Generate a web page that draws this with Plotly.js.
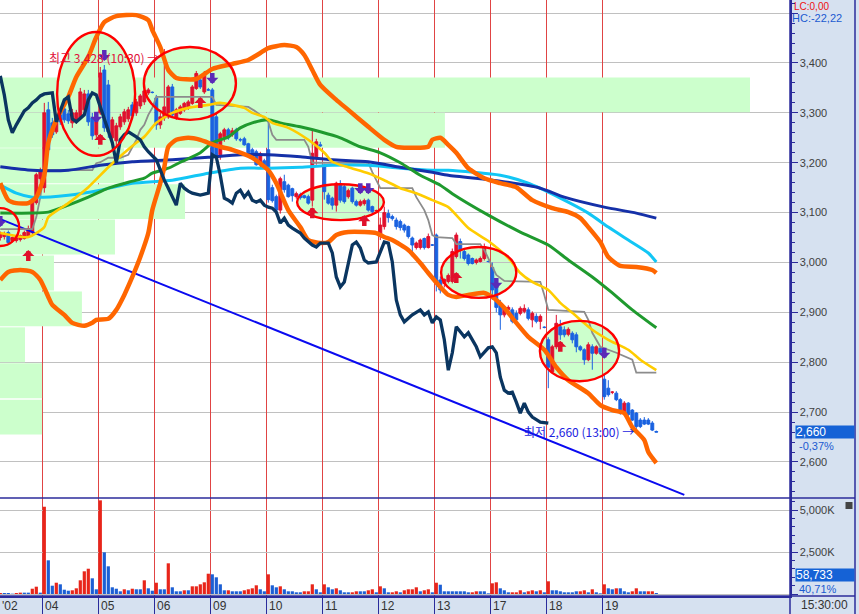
<!DOCTYPE html>
<html><head><meta charset="utf-8">
<script src="https://cdn.plot.ly/plotly-3.0.1.min.js"></script>
<style>html,body{margin:0;padding:0;background:#d6e1f0;}#chart{width:859px;height:614px;}</style>
</head><body><div id="chart"></div>
<script>
// ---------- categories / days ----------
const dayLabels = ["'02","04","05","06","09","10","11","12","13","17","18","19"];
const dayStart  = [-11,0,14,28,42,56,70,84,98,112,126,140];

// ---------- 30-minute candles (bar index -11 .. 153) ----------
const openP = [
 3050,3052,3060,3044,3044,3046,3048,3052,3060,3120,3168,
 3150,3306,3280,3262,3296,3308,3298,3280,3284,3290,3306,3338,3290,3256,
 3300,3386,3356,3250,3244,3272,3282,3288,3316,3300,3314,3322,3340,3341,
 3330,3276,3290,3292,3352,3290,3299,3306,3309,3319,3349,3366,3342,3346,
 3346,3292,3216,3252,3266,3256,3266,3246,3248,3238,3226,3222,3196,3204,
 3226,3150,3132,3105,3162,3155,3148,3132,3136,3134,3132,3125,3212,3236,
 3195,3135,3129,3115,3155,3152,3132,3149,3122,3115,3118,3125,3112,3104,
 3055,3072,3098,3092,3085,3082,3075,3072,3049,3030,3030,3048,3030,3035,
 3055,2965,2958,2962,2962,3012,3042,3022,3015,3008,3000,3002,3008,3002,
 2990,2952,2918,2895,2905,2905,2898,2898,2902,2905,2885,2892,2882,2870,
 2845,2781,2831,2871,2865,2856,2858,2855,2831,2825,2805,2831,2818,2828,
 2766,2748,2740,2738,2725,2698,2718,2704,2698,2684,2684,2684,2678,2661];
const highP = [
 3062,3062,3064,3052,3054,3056,3064,3074,3128,3180,3190,
 3320,3322,3290,3298,3304,3314,3306,3308,3306,3350,3346,3346,3300,3290,
 3392,3396,3366,3292,3280,3298,3308,3312,3322,3328,3338,3348,3350,3343,
 3336,3300,3428,3356,3358,3310,3316,3322,3326,3356,3384,3372,3384,3350,
 3350,3298,3262,3270,3270,3270,3270,3250,3252,3240,3230,3226,3222,3208,
 3290,3156,3136,3172,3176,3158,3150,3142,3140,3136,3136,3266,3248,3242,
 3198,3140,3132,3162,3165,3158,3148,3152,3126,3126,3128,3128,3114,3106,
 3090,3112,3106,3096,3090,3086,3078,3074,3052,3042,3048,3050,3058,3037,
 3058,2972,2968,2978,3028,3060,3048,3026,3018,3010,3008,3012,3038,3004,
 3000,2958,2925,2912,2914,2910,2904,2912,2916,2910,2902,2898,2896,2872,
 2850,2835,2895,2885,2872,2870,2862,2860,2834,2828,2840,2836,2834,2832,
 2778,2764,2742,2742,2728,2722,2720,2706,2700,2688,2690,2688,2682,2663];
const lowP = [
 3044,3046,3036,3040,3040,3042,3046,3050,3056,3116,3160,
 3140,3218,3250,3258,3276,3280,3278,3270,3278,3286,3300,3274,3246,3250,
 3296,3262,3250,3236,3232,3266,3276,3282,3290,3294,3308,3316,3336,3339,
 3266,3268,3284,3288,3290,3286,3296,3302,3306,3316,3346,3348,3338,3344,
 3205,3208,3206,3242,3246,3252,3244,3242,3234,3218,3212,3194,3190,3190,
 3120,3120,3100,3098,3140,3130,3122,3128,3126,3128,3116,3112,3196,3232,
 3126,3116,3106,3102,3120,3118,3128,3118,3112,3112,3114,3102,3098,3102,
 3045,3066,3080,3084,3066,3064,3060,3048,3012,3026,3026,3026,3028,3033,
 2942,2938,2950,2958,2958,3008,3008,3004,2994,2996,2996,3000,3004,3000,
 2925,2900,2865,2890,2900,2878,2880,2894,2898,2884,2870,2878,2866,2868,
 2748,2778,2826,2845,2850,2852,2838,2820,2822,2795,2802,2785,2815,2815,
 2725,2731,2736,2722,2695,2695,2692,2682,2660,2668,2674,2674,2662,2660];
const closeP = [
 3058,3058,3040,3050,3050,3054,3060,3068,3124,3176,3184,
 3300,3226,3256,3290,3282,3286,3284,3300,3300,3342,3338,3282,3254,3282,
 3380,3270,3262,3286,3274,3292,3302,3306,3294,3322,3334,3344,3346,3341,
 3276,3292,3312,3352,3296,3306,3312,3319,3322,3352,3379,3352,3379,3346,
 3212,3214,3258,3266,3250,3264,3248,3246,3236,3220,3216,3196,3218,3192,
 3126,3124,3105,3168,3146,3132,3134,3138,3130,3130,3119,3219,3242,3234,
 3142,3119,3115,3159,3125,3122,3144,3122,3115,3122,3124,3105,3102,3104,
 3075,3100,3090,3088,3072,3070,3065,3052,3035,3039,3045,3030,3052,3035,
 2962,2945,2966,2974,3022,3055,3025,3008,2998,2998,3005,3008,3032,3002,
 2945,2910,2895,2908,2910,2882,2885,2908,2908,2888,2898,2882,2892,2870,
 2790,2831,2878,2855,2855,2866,2845,2831,2825,2805,2835,2818,2831,2820,
 2731,2735,2740,2725,2698,2718,2695,2684,2671,2671,2676,2676,2664,2660];

// ---------- volume (thousand shares) and up/down flag ----------
const volK = [
 60,60,60,20,60,80,80,80,315,435,80,
 5194,2005,494,672,577,256,196,220,339,815,1351,1505,934,280,
 5575,2481,1648,399,315,161,280,220,315,280,280,815,339,196,
 672,280,280,1827,399,161,161,220,220,458,458,577,696,1208,
 1172,994,577,220,220,161,161,161,220,280,339,518,280,161,
 1172,518,399,458,280,161,161,101,101,161,161,577,280,101,
 577,399,280,339,220,101,101,101,161,161,161,220,280,101,
 458,339,101,101,161,101,220,280,280,399,161,220,280,101,
 672,553,161,161,161,161,161,161,101,101,161,161,161,40,
 637,696,339,220,101,101,101,220,101,161,220,161,220,101,
 756,220,220,161,101,101,101,161,161,220,101,280,101,40,
 577,339,280,339,339,161,101,161,339,161,161,161,161,58.733];
const volUp = [
 1,0,0,0,1,1,0,0,1,1,0,
 1,0,0,1,0,0,0,1,1,1,1,1,0,0,
 1,0,0,0,0,0,1,0,1,0,0,1,0,0,
 1,0,0,1,0,0,0,1,0,1,1,1,1,1,
 0,0,0,0,1,0,0,0,1,1,1,1,0,0,
 1,0,0,1,0,0,0,0,0,1,1,1,0,0,
 1,0,0,1,0,0,0,1,1,0,0,1,1,0,
 1,0,0,1,1,0,1,1,1,1,0,1,1,0,
 1,0,0,0,0,0,0,0,0,1,1,0,0,0,
 1,1,0,0,0,1,1,1,0,1,1,0,1,0,
 1,0,0,0,0,0,0,0,1,1,0,1,0,0,
 1,0,0,1,0,0,0,1,1,0,0,1,1,0];

// ---------- volume-by-price profile ----------
const profilePrice = [3336,3265,3194,3122,3051,2979,2907,2835,2763,2690];
const profileVol   = [26550,15750,4390,6550,4070,1910,2900,885,1490,1490];

// ---------- indicator lines (bar index, price) ----------
const lagX = [-11,-10,-9,-8,-7,-6,-5,-4,-3,-2,-1,0,2,3,5,6,7,8,10,11,12,13,14,16,17,18,19,20,21,23,24,25,26,28,29,30,31,33,34,35,36,37,38,39,40,41,42,43,44,45,46,47,48,49,50,51,52,53,54,55,56,57,58,59,60,61,62,64,65,67,68,69,71,72,73,74,75,76,77,78,79,80,81,83,84,85,86,87,88,89,90,91,92,94,95,96,97,98,99,100,101,102,103,104,105,106,108,109,111,112,113,114,115,116,117,118,119,120,121,122,123,124,126];
const lagY = [3374,3336,3286,3260,3276,3290,3304,3310,3320,3326,3334,3338,3340,3282,3326,3332,3288,3282,3296,3326,3340,3336,3312,3266,3240,3200,3246,3256,3262,3252,3246,3232,3222,3206,3185,3165,3149,3115,3159,3149,3143,3139,3137,3135,3137,3139,3216,3211,3175,3129,3125,3119,3139,3145,3131,3141,3125,3121,3125,3115,3111,3109,3101,3079,3089,3075,3069,3059,3049,3035,3031,3039,3039,3019,2971,2951,2961,2999,3035,3041,3029,3005,2999,3001,3021,3041,3039,3001,2925,2895,2881,2889,2895,2905,2895,2901,2879,2891,2885,2845,2784,2819,2871,2861,2851,2859,2831,2811,2829,2831,2819,2770,2744,2738,2740,2720,2698,2718,2700,2690,2684,2680,2678];

const bbUpX = [-11,-9,-7,-4,-2,0,1,3,6,8,11,13,15,18,23,26,27,29,31,33,38,42,47,51,54,56,60,63,65,67,69,73,76,81,85,88,91,96,97,99,101,103,106,110,114,118,122,127,131,134,136,139,141,144,148,152,153];
const bbUpY = [3159,3125,3119,3119,3131,3175,3240,3286,3332,3372,3412,3452,3482,3494,3496,3486,3466,3432,3386,3370,3368,3388,3398,3406,3420,3430,3436,3432,3416,3386,3356,3326,3306,3272,3246,3232,3230,3232,3246,3250,3236,3220,3189,3169,3159,3151,3125,3109,3101,3089,3071,3041,3011,2993,2991,2985,2979];

const bbLoX = [-11,-9,-6,-3,-1,1,2,5,7,10,12,13,16,18,20,22,24,26,27,29,30,31,33,36,39,41,44,47,52,56,58,61,64,66,69,71,73,76,80,83,85,87,91,94,96,99,101,103,106,110,112,115,118,121,125,128,131,136,139,142,145,147,150,151,153];
const bbLoY = [2965,2981,2985,2981,2965,2931,2915,2895,2879,2873,2879,2885,2887,2905,2935,2971,3011,3059,3105,3159,3191,3232,3246,3250,3246,3240,3232,3226,3210,3185,3159,3105,3071,3045,3039,3041,3055,3061,3061,3059,3051,3045,3025,2999,2979,2951,2935,2931,2935,2939,2931,2909,2879,2851,2825,2790,2764,2738,2714,2704,2698,2670,2644,2620,2598];

const maYelX = [-11,-4,0,1,6,11,16,20,23,25,28,32,36,41,44,47,50,52,55,57,61,66,70,72,76,81,85,89,93,97,101,106,111,116,119,122,126,129,132,137,141,146,149,153];
const maYelY = [3059,3051,3071,3091,3119,3151,3191,3220,3240,3252,3280,3300,3310,3316,3320,3316,3310,3300,3292,3280,3270,3246,3220,3202,3191,3179,3165,3149,3139,3125,3111,3069,3043,3009,2979,2961,2945,2919,2899,2865,2845,2825,2805,2784];

const maGrnX = [-11,-3,1,6,11,16,21,25,27,31,34,39,42,46,49,52,56,59,64,69,74,79,84,89,94,99,102,111,119,126,131,137,142,147,153];
const maGrnY = [3099,3099,3101,3115,3131,3149,3161,3169,3179,3189,3201,3220,3240,3252,3270,3280,3286,3280,3272,3262,3250,3232,3220,3200,3175,3155,3138,3095,3061,3035,3005,2971,2939,2905,2869];

const maNavX = [-11,-3,6,14,22,32,41,49,56,64,72,81,89,97,101,114,124,130,140,148,153];
const maNavY = [3192,3185,3185,3195,3202,3206,3211,3216,3216,3212,3206,3202,3191,3181,3175,3163,3149,3131,3111,3099,3089];

const maCyaX = [-11,-7,-3,6,14,22,32,41,49,56,64,72,81,89,97,101,114,121,129,136,141,146,151,153];
const maCyaY = [3155,3139,3131,3135,3145,3159,3165,3179,3189,3189,3191,3195,3195,3189,3185,3185,3175,3159,3129,3099,3071,3045,3019,3001];

const stepX = [-11,-3,-2,-1,0,12,13,14,16,19,21,22,23,24,25,26,27,28,42,43,51,53,55,56,57,58,65,66,67,81,82,84,92,93,95,96,97,98,102,103,109,110,112,113,115,124,125,126,135,136,137,139,143,147,148,153];
const stepY = [3067,3067,3091,3131,3185,3185,3199,3201,3210,3210,3216,3230,3246,3266,3276,3296,3310,3332,3332,3316,3312,3302,3290,3282,3256,3246,3246,3232,3200,3200,3181,3149,3149,3131,3105,3085,3055,3051,3049,3037,3037,3025,2991,2975,2963,2961,2935,2905,2901,2885,2859,2831,2819,2805,2779,2779];

const trendX = [-11,160];
const trendY = [3087,2534];

// ---------- signals ----------
const upX = [-4,14,39,67,80,103,129];
const upY = [3025,3258,3332,3111,3095,2981,2843];
const downX = [-11,13,15,42,79,81,113,140];
const downY = [3071,3280,3404,3358,3137,3137,2947,2807];

// ---------- drawn ellipses (bar index / price) ----------
const ellX0 = [-15.8,3.2,24.9,63.2,99.2,123.9];
const ellX1 = [-6.3,22.7,47.9,84.9,118.0,143.7];
const ellY0 = [3033,3214,3286,3085,2929,2762];
const ellY1 = [3109,3462,3432,3157,3031,2883];

// ---------- axis ticks ----------
const priceTicks = [2600,2700,2800,2900,3000,3100,3200,3300,3400,3500];
const volTicks = [0,2500,5000];
const volTickText = ['','2,500K','5,000K'];

// =====================================================
const NAVY = '#2b2b9b', GRID = '#c0c0c0', DAYRED = '#e04444';
const xMin = -11.075, xMax = 186.425;
const barIdx = openP.map((_, k) => dayStart[0] + k);
const sep = dayStart.slice(1).map(d => d - 0.5);
const fmt = v => Math.round(v).toLocaleString('en-US');

const traces = [];
traces.push({type:'bar', orientation:'h', x:profileVol, y:profilePrice, width:70,
  xaxis:'x', yaxis:'y', marker:{color:'#ccffcc', line:{width:0}}, hoverinfo:'skip'});
traces.push({type:'bar', x:barIdx, y:volK, width:0.8, xaxis:'x3', yaxis:'y2',
  marker:{color:volUp.map(u => u ? '#e8251a' : '#1c5fd4'), line:{width:0}}, hoverinfo:'skip'});
traces.push({type:'candlestick', x:barIdx, open:openP, high:highP, low:lowP, close:closeP,
  xaxis:'x2', yaxis:'y', whiskerwidth:0,
  increasing:{line:{color:'#e0102e', width:1}, fillcolor:'#e0102e'},
  decreasing:{line:{color:'#1a62e0', width:1}, fillcolor:'#1a62e0'}, hoverinfo:'skip'});
function line(x, y, color, width, shape) {
  traces.push({type:'scatter', mode:'lines', x:x, y:y, xaxis:'x2', yaxis:'y',
    line:{color:color, width:width, shape:shape||'linear', smoothing:0.6}, hoverinfo:'skip'});
}
line(trendX, trendY, '#0a0af0', 2);
line(stepX, stepY, '#8c8c8c', 1.8);
line(maCyaX, maCyaY, '#12c6f5', 3, 'spline');
line(maNavX, maNavY, '#1530a8', 3, 'spline');
line(maGrnX, maGrnY, '#1f9a2e', 3, 'spline');
line(maYelX, maYelY, '#ffcc00', 2.6, 'spline');
line(bbUpX, bbUpY, '#ff6600', 4.5, 'spline');
line(bbLoX, bbLoY, '#ff6600', 4.5, 'spline');
line(lagX, lagY, '#0a3560', 3.3);

const shapes = [];
ellX0.forEach((x0, k) => {
  shapes.push({type:'circle', xref:'x2', yref:'y', x0:x0, x1:ellX1[k], y0:ellY0[k], y1:ellY1[k],
    layer:'below', fillcolor:'#ccffcc', line:{width:0}});
  shapes.push({type:'circle', xref:'x2', yref:'y', x0:x0, x1:ellX1[k], y0:ellY0[k], y1:ellY1[k],
    layer:'above', fillcolor:'rgba(0,0,0,0)', line:{color:'#ff0000', width:2.4}});
});
const pane = 1 - 498/596;
const edgeR = 855/790;
shapes.push({type:'line', xref:'paper', yref:'paper', x0:0, x1:edgeR, y0:pane, y1:pane, line:{color:NAVY, width:1.5}});
shapes.push({type:'line', xref:'paper', yref:'paper', x0:0, x1:edgeR, y0:0, y1:0, line:{color:NAVY, width:1.5}});
shapes.push({type:'line', xref:'paper', yref:'paper', x0:1, x1:1, y0:-18/596, y1:1, line:{color:NAVY, width:1.5}});
shapes.push({type:'line', xref:'paper', yref:'paper', x0:edgeR, x1:edgeR, y0:-18/596, y1:1, line:{color:NAVY, width:1.5}});
shapes.push({type:'rect', xref:'paper', yref:'paper', x0:845.5/790, x1:852.5/790, y0:1-509/596, y1:1-502/596,
  fillcolor:'#444444', line:{width:0}});

const ann = [];
upX.forEach((x, k) => ann.push({xref:'x2', yref:'y', x:x, y:upY[k], text:' ', font:{size:1}, showarrow:true,
  arrowhead:1, arrowsize:0.45, arrowwidth:4.5, arrowcolor:'#e0102a', ax:0, ay:13, standoff:0}));
downX.forEach((x, k) => ann.push({xref:'x2', yref:'y', x:x, y:downY[k], text:' ', font:{size:1}, showarrow:true,
  arrowhead:1, arrowsize:0.45, arrowwidth:4.5, arrowcolor:'#5a2ab8', ax:0, ay:-13, standoff:0}));
dayLabels.forEach((t, k) => ann.push({xref:'x3', yref:'paper', x: k === 0 ? xMin : dayStart[k] - 0.5,
  y:0, yanchor:'top', xanchor:'left', xshift: k === 0 ? 0 : 1, yshift:-1, text:t, showarrow:false,
  font:{size:12, color:'#333333'}}));
const hiVal = Math.max(...highP), loVal = Math.min(...lowP);
const kor = 'Noto Sans CJK KR, Noto Sans, sans-serif';
ann.push({xref:'x2', yref:'y', x:29.2, y:hiVal - 16, xanchor:'right', yanchor:'middle', showarrow:false,
  text:'최고 ' + fmt(hiVal) + ' (10:30) →', font:{family:kor, size:12, color:'#e0103a'}});
ann.push({xref:'x2', yref:'y', x:147.9, y:loVal + 2, xanchor:'right', yanchor:'middle', showarrow:false,
  text:'최저 ' + fmt(loVal) + ' (13:00) →', font:{family:kor, size:12, color:'#1a22e0'}});
const px = p => p / 790;
ann.push({xref:'paper', yref:'paper', x:px(793), y:1, xanchor:'left', yanchor:'top', showarrow:false,
  borderpad:0, text:'LC:0,00', font:{size:10, color:'#ee1111'}});
ann.push({xref:'paper', yref:'paper', x:px(791), y:1 - 18/596, xanchor:'left', yanchor:'middle', showarrow:false,
  borderpad:0, text:'HC:-22,22', font:{size:11, color:'#1a5ad0'}});
ann.push({xref:'paper', yref:'y', x:px(795), y:closeP[closeP.length - 1], xanchor:'left', yanchor:'middle',
  showarrow:false, text:fmt(closeP[closeP.length - 1]), width:58, height:12, align:'left', borderpad:0,
  bgcolor:'#1562d6', font:{size:12, color:'#ffffff'}});
ann.push({xref:'paper', yref:'paper', x:px(797), y:1 - 446/596, xanchor:'left', yanchor:'middle', showarrow:false,
  text:'-0,37%', font:{size:11, color:'#1a5ad0'}});
ann.push({xref:'paper', yref:'paper', x:px(795), y:1 - 575/596, xanchor:'left', yanchor:'middle', showarrow:false,
  text:fmt(volK[volK.length - 1] * 1000), width:58, height:12, align:'left', borderpad:0,
  bgcolor:'#1562d6', font:{size:12, color:'#ffffff'}});
ann.push({xref:'paper', yref:'paper', x:px(797), y:1 - 589/596, xanchor:'left', yanchor:'middle', showarrow:false,
  text:'40,71%', font:{size:11, color:'#1a5ad0'}});
ann.push({xref:'paper', yref:'paper', x:px(799), y:1 - 605/596, xanchor:'left', yanchor:'middle', showarrow:false,
  text:'15:30:00', font:{size:12, color:'#333333'}});

const yTickFont = {size:11, color:'#404040'};
const layout = {
  width:859, height:614, margin:{l:0, r:69, t:0, b:18, pad:0},
  paper_bgcolor:'#d6e1f0', plot_bgcolor:'#ffffff', showlegend:false, hovermode:false,
  font:{family:'Liberation Sans, Arial, sans-serif'},
  boxgap:0.2, boxgroupgap:0.1,
  xaxis:{domain:[0,1], anchor:'y', range:[0, profileVol[0] * 790 / 750], visible:false, fixedrange:true},
  xaxis2:{overlaying:'x', anchor:'y', range:[xMin, xMax], tickmode:'array', tickvals:sep,
    showgrid:true, gridcolor:DAYRED, gridwidth:1, showticklabels:false, ticks:'', zeroline:false,
    showline:false, rangeslider:{visible:false}, fixedrange:true},
  xaxis3:{domain:[0,1], anchor:'y2', range:[xMin, xMax], tickmode:'array', tickvals:sep,
    showgrid:true, gridcolor:DAYRED, gridwidth:1, showticklabels:false, ticks:'outside', ticklen:18,
    tickcolor:NAVY, tickwidth:1.5, zeroline:false, showline:true, linecolor:NAVY, linewidth:1.5,
    rangeslider:{visible:false}, fixedrange:true},
  yaxis:{domain:[pane, 1], anchor:'x', side:'right', range:[2527.8, 3526.3], tickmode:'array',
    tickvals:priceTicks, ticktext:priceTicks.map(v => v === 3500 ? '' : fmt(v)),
    showgrid:true, gridcolor:GRID, zeroline:false, showline:true, linecolor:NAVY, linewidth:1.5,
    ticks:'outside', ticklen:6, tickcolor:NAVY, tickfont:yTickFont,
    minor:{tickmode:'linear', tick0:0, dtick:20, ticks:'outside', ticklen:3, tickcolor:NAVY, showgrid:false},
    fixedrange:true},
  yaxis2:{domain:[0, pane], anchor:'x3', side:'right', range:[-119, 5714], tickmode:'array',
    tickvals:volTicks, ticktext:volTickText, showgrid:true, gridcolor:GRID, zeroline:false,
    showline:true, linecolor:NAVY, linewidth:1.5, ticks:'outside', ticklen:6, tickcolor:NAVY,
    tickfont:yTickFont,
    minor:{tickmode:'linear', tick0:0, dtick:500, ticks:'outside', ticklen:3, tickcolor:NAVY, showgrid:false},
    fixedrange:true},
  shapes:shapes, annotations:ann
};
Plotly.newPlot('chart', traces, layout, {displayModeBar:false, staticPlot:true});
</script></body></html>
